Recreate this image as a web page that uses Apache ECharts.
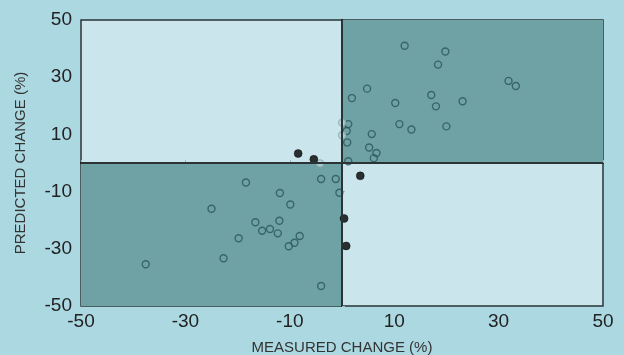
<!DOCTYPE html>
<html>
<head>
<meta charset="utf-8">
<script src="https://cdn.jsdelivr.net/npm/echarts@6/dist/echarts.min.js"></script>
<style>
html,body{margin:0;padding:0;background:#acd8e1;}
#c{width:624px;height:355px;}
</style>
</head>
<body>
<div id="c"></div>
<script>
// Axis ticks
var xTicks = [-50, -30, -10, 10, 30, 50];
var yTicks = [-50, -30, -10, 10, 30, 50];

// Open circles (dark outline)
var openX = [12, 19.8, 18.4, 31.9, 33.3, 4.8, 1.9, 10.2, 17.1, 18, 23.1, 11, 13.3, 20, 5.7, 5.2, 6.6, 6.1, 1.2, 0.9, 1.0, 1.2,
  -18.4, -25, -11.9, -9.9, -16.6, -12, -15.3, -13.8, -12.3, -8.1, -9.1, -10.2, -19.8, -22.7, -37.6, -4.0, -4.0, -1.2, -0.5];
var openY = [41, 39, 34.4, 28.7, 26.9, 26, 22.7, 21, 23.8, 19.8, 21.6, 13.6, 11.7, 12.8, 10.1, 5.4, 3.5, 1.7, 13.6, 11.2, 7.2, 0.6,
  -6.8, -16, -10.5, -14.5, -20.7, -20.2, -23.7, -23.1, -24.6, -25.5, -27.9, -29.1, -26.3, -33.3, -35.4, -43, -5.6, -5.6, -10.4];

// Open circles (light outline, on the dividing lines)
var lightX = [0, 0, -4.2];
var lightY = [14.1, 9.7, -0.1];

// Filled circles
var filledX = [-8.4, -5.4, 3.5, 0.4, 0.8];
var filledY = [3.3, 1.3, -4.5, -19.4, -29];

function pairs(xs, ys) { return xs.map(function (x, i) { return [x, ys[i]]; }); }

var chart = echarts.init(document.getElementById('c'));
var font = 'Liberation Sans, Arial, sans-serif';
chart.setOption({
  backgroundColor: '#acd8e1',
  animation: false,
  grid: {
    left: 81, right: 21, top: 20, bottom: 49,
    containLabel: false, outerBoundsMode: 'none',
    show: true, backgroundColor: '#cbe5ec', borderColor: '#2a3436', borderWidth: 1.5
  },
  xAxis: {
    type: 'value', min: -50, max: 50,
    name: 'MEASURED CHANGE (%)', nameLocation: 'middle', nameGap: 34,
    nameTextStyle: { fontFamily: font, fontSize: 15, color: '#333' },
    axisLine: { lineStyle: { color: '#111', width: 2 } },
    axisTick: { show: true, inside: true, length: 3, lineStyle: { color: '#9cb8bd' }, customValues: xTicks },
    axisLabel: { customValues: xTicks, fontFamily: font, fontSize: 19, color: '#222', margin: 6 },
    splitLine: { show: false }
  },
  yAxis: {
    type: 'value', min: -50, max: 50,
    name: 'PREDICTED CHANGE (%)', nameLocation: 'middle', nameGap: 53,
    nameTextStyle: { fontFamily: font, fontSize: 15, color: '#333' },
    axisLine: { lineStyle: { color: '#111', width: 2 } },
    axisTick: { show: true, inside: true, length: 3, lineStyle: { color: '#9cb8bd' }, customValues: yTicks },
    axisLabel: { customValues: yTicks, fontFamily: font, fontSize: 19, color: '#222', margin: 9 },
    splitLine: { show: false }
  },
  series: [
    {
      type: 'scatter', data: [], silent: true,
      markArea: {
        silent: true,
        itemStyle: { color: '#6fa2a5' },
        data: [
          [{ coord: [0, 0] }, { coord: [50, 50] }],
          [{ coord: [-50, -50] }, { coord: [0, 0] }]
        ]
      },
      markLine: {
        silent: true, symbol: 'none', label: { show: false },
        lineStyle: { color: '#2a3436', width: 2, type: 'solid' },
        data: [{ xAxis: 0 }, { yAxis: 0 }]
      }
    },
    {
      type: 'scatter', data: pairs(openX, openY), symbol: 'circle', symbolSize: 7,
      itemStyle: { color: 'rgba(0,0,0,0)', borderColor: '#2b5658', borderWidth: 1.4 }
    },
    {
      type: 'scatter', data: pairs(lightX, lightY), symbol: 'circle', symbolSize: 7,
      itemStyle: { color: '#bcd8dd', borderColor: '#8fb0b4', borderWidth: 1.3 }
    },
    {
      type: 'scatter', data: pairs(filledX, filledY), symbol: 'circle', symbolSize: 8,
      itemStyle: { color: '#000', borderColor: '#000', borderWidth: 0.5 }
    }
  ]
});
</script>
</body>
</html>
